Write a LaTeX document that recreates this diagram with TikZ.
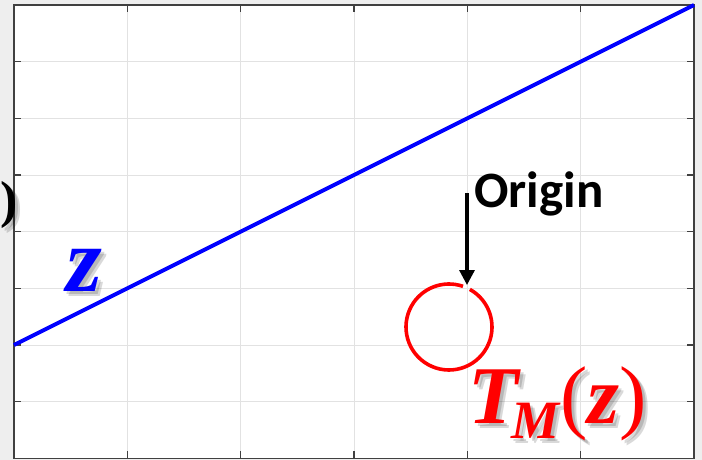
\documentclass[tikz,border=0pt]{standalone}
\usepackage{fontspec}
\newfontfamily\calibri{Carlito}
\newfontfamily\timesf{Liberation Serif}
\usetikzlibrary{arrows.meta}
\definecolor{bgray}{HTML}{EEEEEE}
\definecolor{gridc}{HTML}{E2E2E2}
\definecolor{axisc}{HTML}{404040}
\newcommand{\parenglyph}{\timesf\bfseries\fontsize{52}{52}\selectfont )}
\newcommand{\zglyph}{\timesf\bfseries\itshape\fontsize{92}{92}\selectfont z}
\newcommand{\tmzglyph}{\timesf\bfseries\itshape\fontsize{82}{82}\selectfont T\kern-7pt\raisebox{-15pt}{\fontsize{54}{54}\selectfont M}\kern1pt{\upshape\mdseries(}z{\upshape\mdseries)}}
\tikzset{
  gridline/.style={draw=gridc, line width=1pt},
  axisline/.style={draw=axisc, line width=1.3pt},
  tickmark/.style={draw=axisc, line width=1.3pt},
  zline/.style={draw=blue, line width=4pt},
  shadowtxt/.style={text=black, text opacity=0.15, inner sep=0pt},
  ptr/.style={draw=black, line width=3.2pt, -{Triangle[length=15pt,width=15pt]}},
  ring/.style={draw=red, line width=3.6pt},
}
\begin{document}
\begin{tikzpicture}[x=1pt,y=-1pt]
\useasboundingbox (0,0) rectangle (702,460);
\fill[bgray] (0,0) rectangle (702,460);
\fill[white] (14,5) rectangle (694,458.3);
% grid
\foreach \x in {127.33,240.67,354,467.33,580.67}{
  \draw[gridline] (\x,5) -- (\x,458.3);}
\foreach \y in {61.67,118.33,175,231.67,288.33,345,401.67}{
  \draw[gridline] (14,\y) -- (694,\y);}
% ticks
\foreach \x in {127.33,240.67,354,467.33,580.67}{
  \draw[tickmark] (\x,5) -- (\x,12);
  \draw[tickmark] (\x,458.3) -- (\x,451.3);}
\foreach \y in {61.67,118.33,175,231.67,288.33,345,401.67}{
  \draw[tickmark] (14,\y) -- (21,\y);
  \draw[tickmark] (694,\y) -- (687,\y);}
% axes box
\draw[axisline] (14,5) rectangle (694,458.3);
% cut-off label paren with shadow
\node[shadowtxt, anchor=east] (pshadowa) at (21,208) {\parenglyph};
\node[shadowtxt, anchor=east] (pshadowb) at (23,210) {\parenglyph};
\node[inner sep=0pt, anchor=east] (paren) at (18,205) {\parenglyph};
% blue line z
\coordinate (za) at (14,345);
\coordinate (zb) at (694,5);
\draw[zline] (za) -- (zb);
\node[shadowtxt, anchor=base] (zshadowa) at (87,294) {\zglyph};
\node[shadowtxt, anchor=base] (zshadowb) at (89,296) {\zglyph};
\node[inner sep=0pt, anchor=base, text=blue] (zlab) at (84,291) {\zglyph};
% origin label and arrow
\node[inner sep=0pt, anchor=base west] (orig) at (474,207) {\calibri\bfseries\fontsize{51}{51}\selectfont Origin};
\coordinate (astart) at (467,193);
\coordinate (atip) at (467,285);
\draw[ptr] (astart) -- (atip);
% red ring with gap near arrow tip
\coordinate (rc) at (449,327);
\draw[ring] (rc) ++(-61:43) arc[start angle=-61, end angle=289, radius=43];
% T_M(z) label
\node[shadowtxt, anchor=base west] (tshadowa) at (471,426) {\tmzglyph};
\node[shadowtxt, anchor=base west] (tshadowb) at (473,428) {\tmzglyph};
\node[inner sep=0pt, anchor=base west, text=red] (tmz) at (468,423) {\tmzglyph};
\end{tikzpicture}
\end{document}
